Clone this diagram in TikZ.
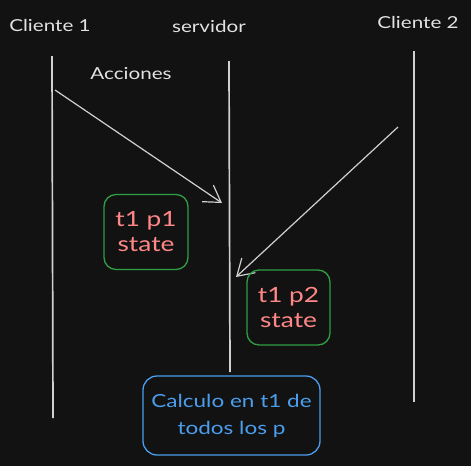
\documentclass[tikz,border=0pt]{standalone}
\usepackage{fontspec}
\setmainfont{Lato}[FakeStretch=1.25]
\usetikzlibrary{arrows.meta}
\definecolor{bg}{HTML}{121212}
\definecolor{fg}{HTML}{E2E2E2}
\definecolor{linec}{HTML}{D0D0D0}
\definecolor{boxgreen}{HTML}{2F9E44}
\definecolor{txtred}{HTML}{FF8787}
\definecolor{boxblue}{HTML}{4A9EED}
\begin{document}
\begin{tikzpicture}[x=1pt,y=-1pt,
  lbl/.style={text=fg,font=\fontsize{16.5}{20}\selectfont,inner sep=0pt},
  life/.style={draw=linec,line width=1.7pt},
  msg/.style={draw=linec,line width=1.2pt,-{Straight Barb[length=16pt,width=20pt,line width=1.2pt]}},
  statebox/.style={draw=boxgreen,line width=1.3pt,rounded corners=12pt,text=txtred,align=center,
    font=\fontsize{21}{25}\selectfont,inner sep=0pt},
  calcbox/.style={draw=boxblue,line width=1.3pt,rounded corners=14pt,text=boxblue,align=center,
    font=\fontsize{18}{27}\selectfont,inner sep=0pt}]
\fill[bg] (0,0) rectangle (471,466);
\useasboundingbox (0,0) rectangle (471,466);
\node[lbl] (c1) at (50,25) {Cliente 1};
\node[lbl] (srv) at (209,26) {servidor};
\node[lbl] (c2) at (418,22) {Cliente 2};
\node[lbl] (acc) at (131,74) {Acciones};
\coordinate (l1a) at (52,56); \coordinate (l1b) at (53,418);
\coordinate (lsa) at (229,61); \coordinate (lsb) at (230,372);
\coordinate (l2a) at (414,51); \coordinate (l2b) at (414,402);
\draw[life] (l1a) -- (l1b);
\draw[life] (lsa) -- (lsb);
\draw[life] (l2a) -- (l2b);
\coordinate (a1s) at (55,90); \coordinate (a1e) at (222,203);
\coordinate (a2s) at (398,127); \coordinate (a2e) at (236,277);
\draw[msg] (a1s) -- (a1e);
\draw[msg] (a2s) -- (a2e);
\node[statebox,minimum width=84pt,minimum height=75pt] (p1) at (146,232) {t1 p1\\state};
\node[statebox,minimum width=83pt,minimum height=75pt] (p2) at (288.5,307.5) {t1 p2\\state};
\node[calcbox,minimum width=177pt,minimum height=79pt] (calc) at (231.5,415.5) {Calculo en t1 de\\todos los p};
\end{tikzpicture}
\end{document}
